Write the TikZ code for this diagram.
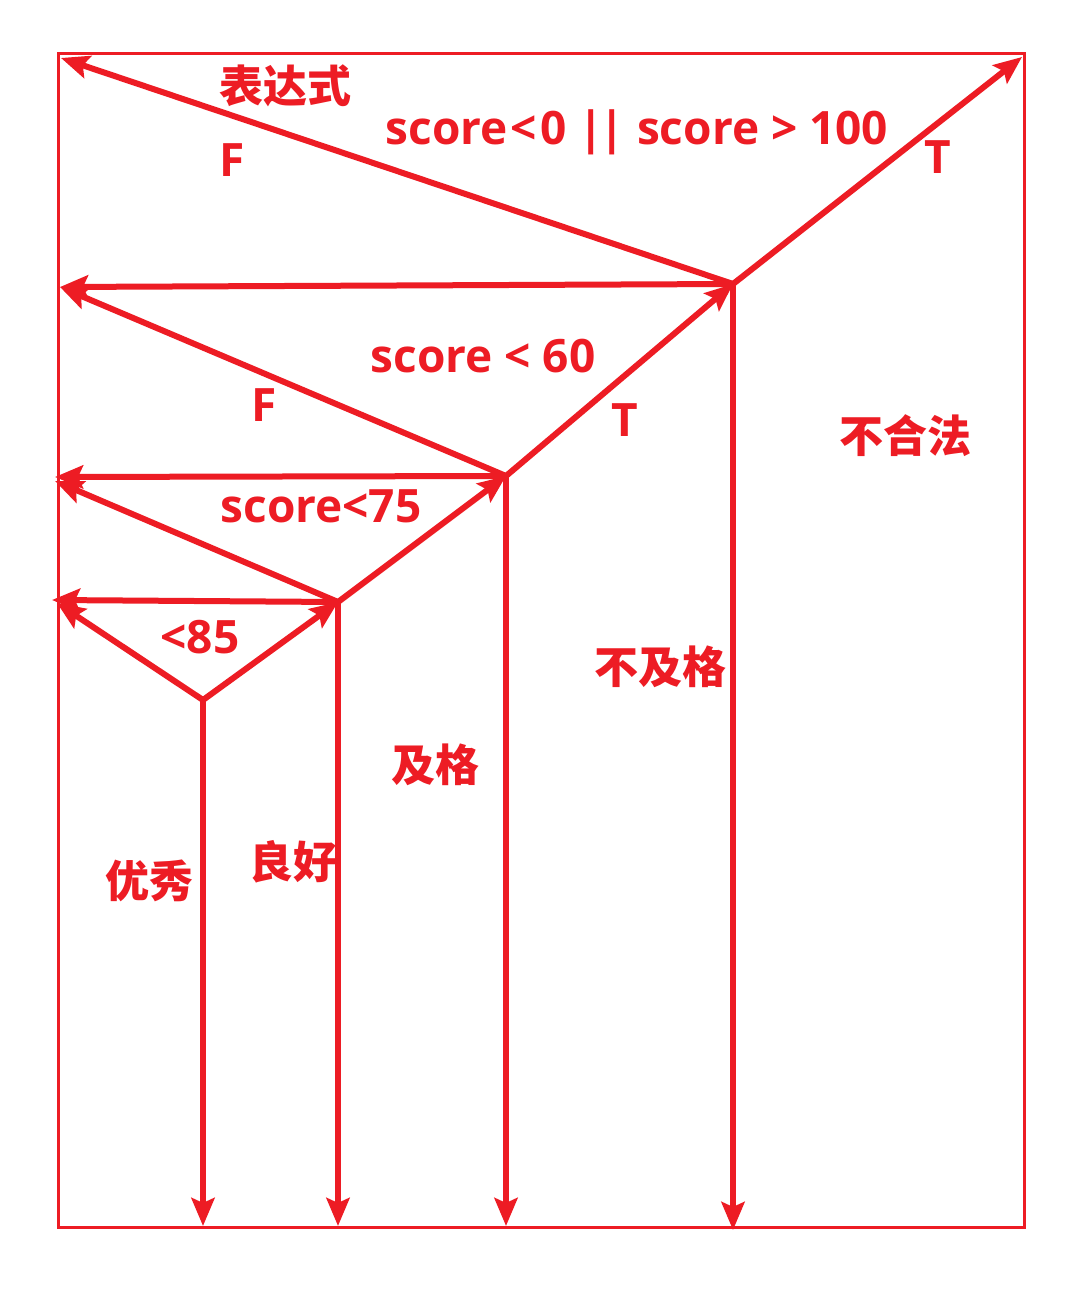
\documentclass[tikz,border=0pt]{standalone}
\usepackage{fontspec}
\setmainfont{Open Sans}
\newfontfamily\cjk{Noto Sans CJK SC}
\usetikzlibrary{arrows.meta}
\definecolor{rd}{HTML}{ED1C24}
\tikzset{
  conn/.style={draw=rd, line width=6pt, -{Stealth[length=28pt,width=23pt,inset=5pt]}},
  lat/.style={text=rd, inner sep=0pt, anchor=base, font=\fontsize{46}{50}\selectfont\bfseries},
  zh/.style={text=rd, inner sep=0pt, anchor=center, font=\cjk\fontsize{44}{48}\selectfont\bfseries},
}
\begin{document}
\begin{tikzpicture}[x=1pt,y=-1pt]
\useasboundingbox (0,0) rectangle (1073,1297);
\fill[white] (0,0) rectangle (1073,1297);
% frame
\draw[rd, line width=3pt] (58,54) rectangle (1024,1227);
% junctions
\coordinate (p1) at (733,284);
\coordinate (p2) at (506,476);
\coordinate (p3) at (338,602);
\coordinate (p4) at (203,700);
% free ends
\coordinate (e1) at (61,58);
\coordinate (e2) at (1022,57);
\coordinate (e3) at (60,287);
\coordinate (e4) at (733,1230);
\coordinate (e5) at (55,477);
\coordinate (e6) at (506,1226);
\coordinate (e7) at (55,481);
\coordinate (e8) at (52,600);
\coordinate (e9) at (338,1226);
\coordinate (e10) at (57,603);
\coordinate (e11) at (203,1226);
% connectors
\draw[conn] (p1) -- (e1);
\draw[conn] (p1) -- (e2);
\draw[conn] (p1) -- (e3);
\draw[conn] (p1) -- (e4);
\draw[conn] (p2) -- (p1);
\draw[conn] (p2) -- (e3);
\draw[conn] (p2) -- (e5);
\draw[conn] (p2) -- (e6);
\draw[conn] (p3) -- (p2);
\draw[conn] (p3) -- (e7);
\draw[conn] (p3) -- (e8);
\draw[conn] (p3) -- (e9);
\draw[conn] (p4) -- (p3);
\draw[conn] (p4) -- (e10);
\draw[conn] (p4) -- (e11);
% labels
\node[zh] (t1) at (285,86) {表达式};
\node[lat] (t2) at (232,177) {F};
\node[lat] (t3) at (637,145) {score\kern3pt<\kern3pt0 |\kern-4pt| score > 100};
\node[lat] (t4) at (938,174) {T};
\node[lat] (t5) at (483,372) {score < 60};
\node[lat] (t6) at (264,421) {F};
\node[lat] (t7) at (625,436) {T};
\node[lat] (t8) at (321,522) {score<75};
\node[lat] (t9) at (200,653) {<85};
\node[zh] (t10) at (905,436) {不合法};
\node[zh] (t11) at (660,667) {不及格};
\node[zh] (t12) at (435,765) {及格};
\node[zh] (t13) at (293,862) {良好};
\node[zh] (t14) at (149,881) {优秀};
\end{tikzpicture}
\end{document}
